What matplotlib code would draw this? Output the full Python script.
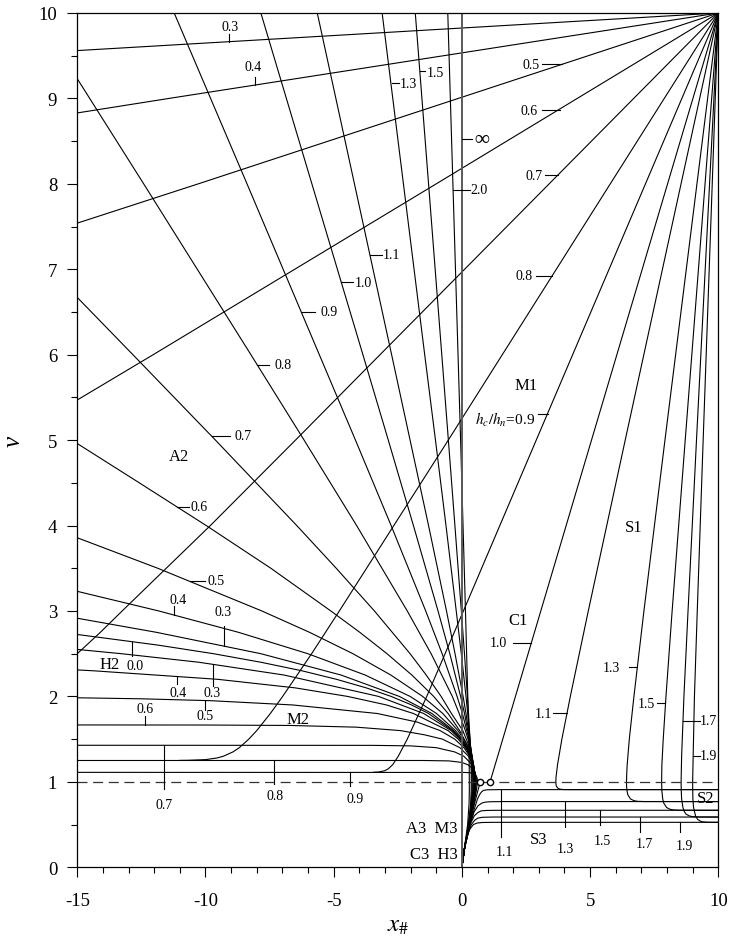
"""
Dimensionless water surface profiles (wide channel), v = h/hc against x#.
"""
import matplotlib
matplotlib.use("Agg")
import matplotlib.pyplot as plt

plt.rcParams["font.family"] = ["Liberation Serif", "DejaVu Serif"]
plt.rcParams["mathtext.fontset"] = "stix"
plt.rcParams["axes.unicode_minus"] = False

# ---- profiles, (x#, v) pairs ----
# M1 curves, hc/hn < 1, all ending at the top right corner
M1 = {
  "0.3": [(-15, 9.56), (10, 10)],
  "0.4": [(-15, 8.83), (-11.42, 9.0), (10, 10)],
  "0.5": [(-15, 7.54), (-10.28, 8.0), (10, 10)],
  "0.6": [(-15, 5.47), (-12.04, 6.0), (-1.0, 8.0), (10, 10)],
  "0.7": [(-15, 2.5), (-14.1, 2.75), (-13.25, 3.0), (-9.81, 4.0), (-6.49, 5.0), (10, 10)],
  "0.8": [(-11.0, 1.251), (-10.7, 1.252), (-10.0, 1.26), (-9.54, 1.28), (-9.30, 1.3),
          (-8.93, 1.35), (-8.68, 1.4), (-8.31, 1.5), (-8.0, 1.6), (-7.47, 1.8),
          (-6.99, 2.0), (-5.86, 2.5), (-4.78, 3.0), (-0.53, 5.0), (10, 10)],
  "0.9": [(-3.44, 1.112), (-3.25, 1.115), (-3.01, 1.13), (-2.88, 1.15), (-2.70, 1.2),
          (-2.48, 1.3), (-2.13, 1.5), (-1.37, 2.0), (0.06, 3.0), (2.90, 5.0), (10, 10)],
}

# C1 and C3
C1 = [(1.10, 1.0), (10, 10)]
C3 = [(0, 0), (0.118, 0.25), (0.293, 0.5), (0.496, 0.75), (0.626, 0.9), (0.72, 1.0)]

# S1 joined to S2, hc/hn > 1
S12 = {
  "1.1": [(10, 10), (6.37, 5), (4.93, 3), (4.23, 2), (3.90, 1.5), (3.73, 1.2), (3.69, 1.1),
          (3.67, 1.05), (3.665, 1.0), (3.667, 0.98), (3.683, 0.95), (3.73, 0.93),
          (3.776, 0.92), (3.85, 0.913), (3.95, 0.910), (4.2, 0.909), (10, 0.909)],
  "1.3": [(10, 10), (7.92, 5), (7.10, 3), (6.71, 2), (6.53, 1.5), (6.447, 1.2), (6.43, 1.1),
          (6.42, 1.0), (6.424, 0.95), (6.437, 0.9), (6.47, 0.85), (6.574, 0.8),
          (6.709, 0.78), (6.85, 0.772), (7.1, 0.7695), (10, 0.769)],
  "1.5": [(10, 10), (8.71, 5), (8.2, 3), (7.96, 2), (7.853, 1.5), (7.80, 1.2), (7.79, 1.0),
          (7.798, 0.9), (7.833, 0.8), (7.874, 0.75), (7.984, 0.7), (8.105, 0.68),
          (8.25, 0.671), (8.5, 0.6675), (10, 0.667)],
  "1.7": [(10, 10), (9.15, 5), (8.82, 3), (8.66, 2), (8.57, 1.3), (8.55, 1.0), (8.555, 0.9),
          (8.57, 0.8), (8.62, 0.7), (8.678, 0.65), (8.75, 0.62), (8.88, 0.6),
          (9.0, 0.592), (9.25, 0.5885), (10, 0.588)],
  "1.9": [(10, 10), (9.41, 5), (9.18, 3), (9.07, 2), (9.02, 1.3), (9.0, 1.0), (9.003, 0.9),
          (9.01, 0.8), (9.035, 0.7), (9.114, 0.6), (9.196, 0.56), (9.3, 0.54),
          (9.4, 0.531), (9.6, 0.527), (10, 0.526)],
}

# S3 curves from the origin
S3 = {
  "1.1": [(0, 0), (0.1, 0.22), (0.31, 0.5), (0.45, 0.65), (0.61, 0.8), (0.69, 0.85),
          (0.76, 0.88), (0.84, 0.90), (1.0, 0.907), (1.5, 0.909), (10, 0.909)],
  "1.3": [(0, 0), (0.1, 0.22), (0.31, 0.5), (0.48, 0.65), (0.63, 0.72), (0.77, 0.75),
          (0.9, 0.762), (1.1, 0.767), (1.6, 0.769), (10, 0.769)],
  "1.5": [(0, 0), (0.1, 0.22), (0.32, 0.5), (0.48, 0.6), (0.62, 0.64), (0.75, 0.66),
          (0.95, 0.665), (1.4, 0.667), (10, 0.667)],
  "1.7": [(0, 0), (0.1, 0.22), (0.24, 0.4), (0.37, 0.5), (0.5, 0.55), (0.62, 0.575),
          (0.8, 0.585), (1.2, 0.588), (10, 0.588)],
  "1.9": [(0, 0), (0.1, 0.22), (0.25, 0.4), (0.32, 0.45), (0.45, 0.5), (0.6, 0.518),
          (0.8, 0.524), (1.2, 0.526), (10, 0.526)],
}

# A2 joined to A3 (adverse slope), through critical depth down to the origin
A23 = {
  "0.3": [(-15, 2.915), (-11.91, 2.75), (-7.84, 2.5), (-4.71, 2.25), (-2.44, 2.0),
          (-1.17, 1.8), (-0.32, 1.6), (-0.026, 1.5), (0.194, 1.4), (0.349, 1.3),
          (0.449, 1.2), (0.503, 1.1), (0.515, 1.05), (0.519, 1.0), (0.505, 0.9),
          (0.444, 0.75), (0.286, 0.5), (0.118, 0.25), (0, 0)],
  "0.4": [(-15, 3.23), (-11.82, 3.0), (-8.71, 2.75), (-6.01, 2.5), (-3.77, 2.25),
          (-2.02, 2.0), (-0.99, 1.8), (-0.25, 1.6), (0.012, 1.5), (0.21, 1.4),
          (0.357, 1.3), (0.451, 1.2), (0.502, 1.1), (0.518, 1.0), (0.503, 0.9),
          (0.442, 0.75), (0.285, 0.5), (0.118, 0.25), (0, 0)],
  "0.5": [(-15, 3.857), (-11.86, 3.5), (-7.80, 3.0), (-5.94, 2.75), (-4.25, 2.5),
          (-2.77, 2.25), (-1.53, 2.0), (-0.745, 1.8), (-0.155, 1.6), (0.067, 1.5),
          (0.24, 1.4), (0.367, 1.3), (0.453, 1.2), (0.50, 1.1), (0.515, 1.0),
          (0.50, 0.9), (0.44, 0.75), (0.285, 0.5), (0.118, 0.25), (0, 0)],
  "0.6": [(-15, 4.96), (-12.58, 4.5), (-9.97, 4.0), (-7.45, 3.5), (-5.11, 3.0),
          (-3.98, 2.75), (-2.92, 2.5), (-1.95, 2.25), (-1.10, 2.0), (-0.537, 1.8),
          (-0.087, 1.6), (0.09, 1.5), (0.27, 1.4), (0.38, 1.3), (0.454, 1.2),
          (0.497, 1.1), (0.51, 1.0), (0.495, 0.9), (0.436, 0.75), (0.283, 0.5),
          (0.118, 0.25), (0, 0)],
  "0.7": [(-15, 6.67), (-12.83, 6.0), (-9.61, 5.0), (-6.44, 4.0), (-4.90, 3.5),
          (-3.41, 3.0), (-2.02, 2.5), (-1.39, 2.25), (-0.81, 2.0), (-0.407, 1.8),
          (0.036, 1.6), (0.172, 1.5), (0.30, 1.4), (0.389, 1.3), (0.451, 1.2),
          (0.488, 1.1), (0.50, 1.0), (0.488, 0.9), (0.43, 0.75), (0.281, 0.5),
          (0.118, 0.25), (0, 0)],
  "0.8": [(-15, 9.23), (-12.41, 8.0), (-8.228, 6.0), (-6.153, 5.0), (-4.105, 4.0),
          (-2.13, 3.0), (-1.20, 2.5), (-0.372, 2.0), (-0.105, 1.8), (0.137, 1.6),
          (0.24, 1.5), (0.328, 1.4), (0.398, 1.3), (0.449, 1.2), (0.48, 1.1),
          (0.49, 1.0), (0.475, 0.9), (0.42, 0.75), (0.278, 0.5), (0.117, 0.25), (0, 0)],
  "0.9": [(-11.22, 10), (-8.38, 8.0), (-5.56, 6.0), (-4.15, 5.0), (-2.76, 4.0),
          (-1.41, 3.0), (-0.771, 2.5), (-0.187, 2.0), (0.02, 1.8), (0.277, 1.5),
          (0.344, 1.4), (0.40, 1.3), (0.441, 1.2), (0.466, 1.1), (0.475, 1.0),
          (0.453, 0.9), (0.409, 0.75), (0.276, 0.5), (0.117, 0.25), (0, 0)],
  "1.0": [(-7.84, 10), (-5.85, 8), (-3.86, 6), (-2.87, 5), (-1.89, 4), (-0.93, 3),
          (-0.47, 2.5), (-0.05, 2.0), (0.103, 1.8), (0.292, 1.5), (0.386, 1.3),
          (0.419, 1.2), (0.44, 1.1), (0.447, 1.0), (0.44, 0.9), (0.40, 0.75),
          (0.273, 0.5), (0.117, 0.25), (0, 0)],
  "1.1": [(-5.64, 10), (-4.19, 8), (-2.74, 6), (-2.02, 5), (-1.30, 4), (-0.60, 3),
          (-0.267, 2.5), (0.047, 2.0), (0.161, 1.8), (0.307, 1.5), (0.381, 1.3),
          (0.407, 1.2), (0.424, 1.1), (0.43, 1.0), (0.425, 0.9), (0.389, 0.75),
          (0.27, 0.5), (0.117, 0.25), (0, 0)],
  "1.3": [(-3.11, 10), (-2.28, 8), (-1.45, 6), (-1.03, 5), (-0.62, 4), (-0.22, 3),
          (-0.023, 2.5), (0.16, 2.0), (0.228, 1.8), (0.317, 1.5), (0.363, 1.3),
          (0.38, 1.2), (0.391, 1.1), (0.395, 1.0), (0.394, 0.9), (0.367, 0.75),
          (0.263, 0.5), (0.117, 0.25), (0, 0)],
  "1.5": [(-1.817, 10), (-1.30, 8), (-0.784, 6), (-0.527, 5), (-0.272, 4), (-0.021, 3),
          (0.101, 2.5), (0.216, 2.0), (0.259, 1.8), (0.316, 1.5), (0.346, 1.3),
          (0.357, 1.2), (0.364, 1.1), (0.367, 1.0), (0.363, 0.9), (0.342, 0.75),
          (0.253, 0.5), (0.116, 0.25), (0, 0)],
  "2.0": [(-0.55, 10), (-0.35, 8), (-0.05, 5), (0.14, 3), (0.23, 2), (0.27, 1.5),
          (0.286, 1.2), (0.29, 1.0), (0.29, 0.9), (0.281, 0.75), (0.224, 0.5),
          (0.11, 0.25), (0, 0)],
}
A_INF = [(0, 0), (0, 10)]

# H2 joined to H3 (horizontal bed)
H23 = [(-15, 2.725), (-11.84, 2.6), (-9.69, 2.5), (-7.84, 2.4), (-6.24, 2.3), (-4.89, 2.2),
       (-3.73, 2.1), (-2.76, 2.0), (-1.96, 1.9), (-1.30, 1.8), (-0.366, 1.6), (-0.05, 1.5),
       (0.183, 1.4), (0.343, 1.3), (0.447, 1.2), (0.503, 1.1), (0.515, 1.05), (0.519, 1.0),
       (0.505, 0.9), (0.444, 0.75), (0.286, 0.5), (0.118, 0.25), (0, 0)]

# M2 joined to M3 (mild slope)
M23 = {
  "0.3": [(-15, 2.55), (-13.28, 2.5), (-10.26, 2.4), (-6.93, 2.25), (-3.25, 2.0),
          (-1.49, 1.8), (-0.42, 1.6), (-0.078, 1.5), (0.166, 1.4), (0.337, 1.3),
          (0.446, 1.2), (0.503, 1.1), (0.516, 1.05), (0.52, 1.0), (0.506, 0.9),
          (0.445, 0.75), (0.286, 0.5), (0.118, 0.25), (0, 0)],
  "0.4": [(-15, 2.31), (-14.37, 2.3), (-9.52, 2.2), (-6.50, 2.1), (-4.46, 2.0),
          (-2.94, 1.9), (-1.89, 1.8), (-0.54, 1.6), (-0.142, 1.5), (0.138, 1.4),
          (0.326, 1.3), (0.442, 1.2), (0.502, 1.1), (0.52, 1.0), (0.506, 0.9),
          (0.445, 0.75), (0.286, 0.5), (0.118, 0.25), (0, 0)],
  "0.5": [(-15, 1.984), (-12.5, 1.972), (-9.8, 1.95), (-6.6, 1.9), (-3.30, 1.8),
          (-1.75, 1.7), (-0.85, 1.6), (-0.28, 1.5), (0.08, 1.4), (0.306, 1.3),
          (0.44, 1.2), (0.506, 1.1), (0.525, 1.0), (0.51, 0.9), (0.448, 0.75),
          (0.287, 0.5), (0.118, 0.25), (0, 0)],
  "0.6": [(-15, 1.666), (-10, 1.665), (-6.7, 1.66), (-4.12, 1.64), (-2.4, 1.6),
          (-1.45, 1.55), (-0.76, 1.5), (-0.08, 1.4), (0.258, 1.3), (0.433, 1.2),
          (0.513, 1.1), (0.535, 1.0), (0.516, 0.9), (0.452, 0.75), (0.287, 0.5),
          (0.118, 0.25), (0, 0)],
  "0.7": [(-15, 1.428), (-3.5, 1.427), (-2.0, 1.421), (-1.0, 1.40), (-0.28, 1.35),
          (0.076, 1.3), (0.406, 1.2), (0.523, 1.1), (0.55, 1.0), (0.519, 0.9),
          (0.449, 0.75), (0.285, 0.5), (0.118, 0.25), (0, 0)],
  "0.8": [(-15, 1.25), (-1.5, 1.2499), (-0.5, 1.245), (0.0, 1.227), (0.235, 1.2),
          (0.443, 1.15), (0.524, 1.1), (0.558, 1.05), (0.567, 1.0), (0.536, 0.9),
          (0.458, 0.75), (0.287, 0.5), (0.118, 0.25), (0, 0)],
  "0.9": [(-15, 1.111), (0.1, 1.110), (0.30, 1.107), (0.43, 1.10), (0.54, 1.08),
          (0.59, 1.05), (0.607, 1.02), (0.61, 1.0), (0.565, 0.9), (0.472, 0.75),
          (0.289, 0.5), (0.118, 0.25), (0, 0)],
}

CRITICAL_DEPTH = 1.0
CIRCLES = [(0.72, 1.0), (1.10, 1.0)]

# curve labels: text, text x, text y, leader x pair, leader y pair
CURVE_LABELS = [
  ("0.3", -9.03, 9.84, (-9.07, -9.07), (9.664, 9.75)),
  ("0.4", -8.14, 9.37, (-8.05, -8.05), (9.155, 9.25)),
  ("0.5", 2.70, 9.40, (3.12, 3.90), (9.40, 9.40)),
  ("0.6", 2.62, 8.86, (3.12, 3.83), (8.87, 8.87)),
  ("0.7", 2.80, 8.10, (3.25, 3.73), (8.10, 8.10)),
  ("0.8", 2.43, 6.925, (2.89, 3.52), (6.925, 6.925)),
  ("1.0", 1.44, 2.63, (2.0, 2.70), (2.63, 2.63)),
  ("1.1", 3.17, 1.795, (3.56, 4.10), (1.80, 1.80)),
  ("1.3", 5.84, 2.34, (6.50, 6.84), (2.34, 2.34)),
  ("1.5", 7.21, 1.92, (7.62, 7.94), (1.92, 1.92)),
  ("1.7", 9.63, 1.716, (8.63, 9.29), (1.716, 1.716)),
  ("1.9", 9.63, 1.306, (9.03, 9.29), (1.306, 1.306)),
  ("1.1", 1.65, 0.18, (1.53, 1.53), (0.909, 0.35)),
  ("1.3", 4.03, 0.22, (4.03, 4.03), (0.769, 0.47)),
  ("1.5", 5.46, 0.31, (5.39, 5.39), (0.667, 0.49)),
  ("1.7", 7.11, 0.275, (6.93, 6.93), (0.588, 0.41)),
  ("1.9", 8.67, 0.255, (8.49, 8.49), (0.526, 0.41)),
  ("0.7", -11.6, 0.74, (-11.6, -11.6), (1.428, 0.917)),
  ("0.8", -7.28, 0.84, (-7.31, -7.31), (1.25, 0.975)),
  ("0.9", -4.16, 0.80, (-4.38, -4.38), (1.111, 0.955)),
  ("0.6", -12.36, 1.86, (-12.34, -12.34), (1.775, 1.666)),
  ("0.5", -10.03, 1.775, (-10.02, -10.02), (1.838, 1.95)),
  ("0.4", -11.05, 2.05, (-11.13, -11.13), (2.146, 2.233)),
  ("0.3", -9.73, 2.05, (-9.71, -9.71), (2.126, 2.37)),
  ("0.0", -12.73, 2.36, (-12.86, -12.86), (2.477, 2.64)),
  ("0.3", -9.33, 2.99, (-9.26, -9.26), (2.828, 2.59)),
  ("0.4", -11.07, 3.14, (-11.21, -11.21), (3.062, 2.953)),
  ("0.5", -9.58, 3.355, (-10.62, -10.0), (3.355, 3.355)),
  ("0.6", -10.25, 4.22, (-11.12, -10.66), (4.22, 4.22)),
  ("0.7", -8.55, 5.05, (-9.76, -9.04), (5.05, 5.05)),
  ("0.8", -6.99, 5.88, (-8.0, -7.54), (5.88, 5.88)),
  ("0.9", -5.18, 6.50, (-6.26, -5.72), (6.50, 6.50)),
  ("1.0", -3.86, 6.85, (-4.70, -4.23), (6.85, 6.85)),
  ("1.1", -2.76, 7.17, (-3.59, -3.12), (7.17, 7.17)),
  ("1.3", -2.07, 9.18, (-2.72, -2.45), (9.18, 9.18)),
  ("1.5", -1.04, 9.30, (-1.64, -1.43), (9.32, 9.32)),
  ("2.0", 0.67, 7.93, (-0.34, 0.30), (7.93, 7.93)),
]
ZONE_LABELS = [
  ("A2", -11.03, 4.82), ("M1", 2.49, 5.65), ("S1", 6.72, 3.98), ("C1", 2.18, 2.89),
  ("M2", -6.40, 1.735), ("H2", -13.74, 2.38), ("S2", 9.49, 0.81), ("S3", 2.98, 0.33),
]


def draw(pts, color="black", lw=0.8):
  xs = [p[0] for p in pts]
  vs = [p[1] for p in pts]
  ax.plot(xs, vs, color=color, lw=lw, solid_joinstyle="round")


fig = plt.figure(figsize=(7.29, 9.45), dpi=100)
ax = fig.add_axes([0.1060, 0.0812, 0.8793, 0.9040])

for pts in M1.values():
  draw(pts)
for pts in S12.values():
  draw(pts)
for pts in S3.values():
  draw(pts)
for pts in A23.values():
  draw(pts)
for pts in M23.values():
  draw(pts)
draw(H23)
draw(C1)
draw(C3)
draw(A_INF, color="0.35", lw=1.4)

ax.axhline(CRITICAL_DEPTH, color="0.2", lw=0.9, dashes=(8, 4.5))
ax.plot([c[0] for c in CIRCLES], [c[1] for c in CIRCLES], "o", ms=4.5,
        mfc="white", mec="black", mew=1.0, zorder=5)

for text, tx, ty, lx, ly in CURVE_LABELS:
  ax.plot(lx, ly, color="black", lw=0.8)
  ax.text(tx, ty, text, ha="center", va="center", fontsize=10)

ax.plot([0.01, 0.38], [8.52, 8.52], color="black", lw=0.8)
ax.text(0.78, 8.52, "\u221e", ha="center", va="center", fontsize=15, fontweight="bold")
ax.plot([2.98, 3.34], [5.31, 5.31], color="black", lw=0.8)
ax.text(1.69, 5.25, r"$h_c/h_n$=0.9", ha="center", va="center", fontsize=11)

for text, tx, ty in ZONE_LABELS:
  ax.text(tx, ty, text, ha="center", va="center", fontsize=12)
ax.text(-0.18, 0.46, "A3  M3", ha="right", va="center", fontsize=12)
ax.text(-0.18, 0.155, "C3  H3", ha="right", va="center", fontsize=12)

ax.set_xlim(-15, 10)
ax.set_ylim(0, 10)
ax.set_xticks([-15, -10, -5, 0, 5, 10])
ax.set_xticks(range(-15, 11), minor=True)
ax.set_yticks(range(0, 11))
ax.set_yticks([i + 0.5 for i in range(10)], minor=True)
ax.tick_params(which="major", direction="out", length=7.5, width=0.8, labelsize=13.5)
ax.tick_params(axis="x", which="major", pad=10)
ax.tick_params(axis="y", which="major", pad=7)
ax.tick_params(which="minor", direction="out", length=4, width=0.8)
for side in ax.spines.values():
  side.set_linewidth(0.9)

ax.set_xlabel(r"$x_\#$", fontsize=18, labelpad=4)
ax.set_ylabel("v", fontsize=18, fontstyle="italic", labelpad=10)

fig.savefig("out.png", dpi=100)
